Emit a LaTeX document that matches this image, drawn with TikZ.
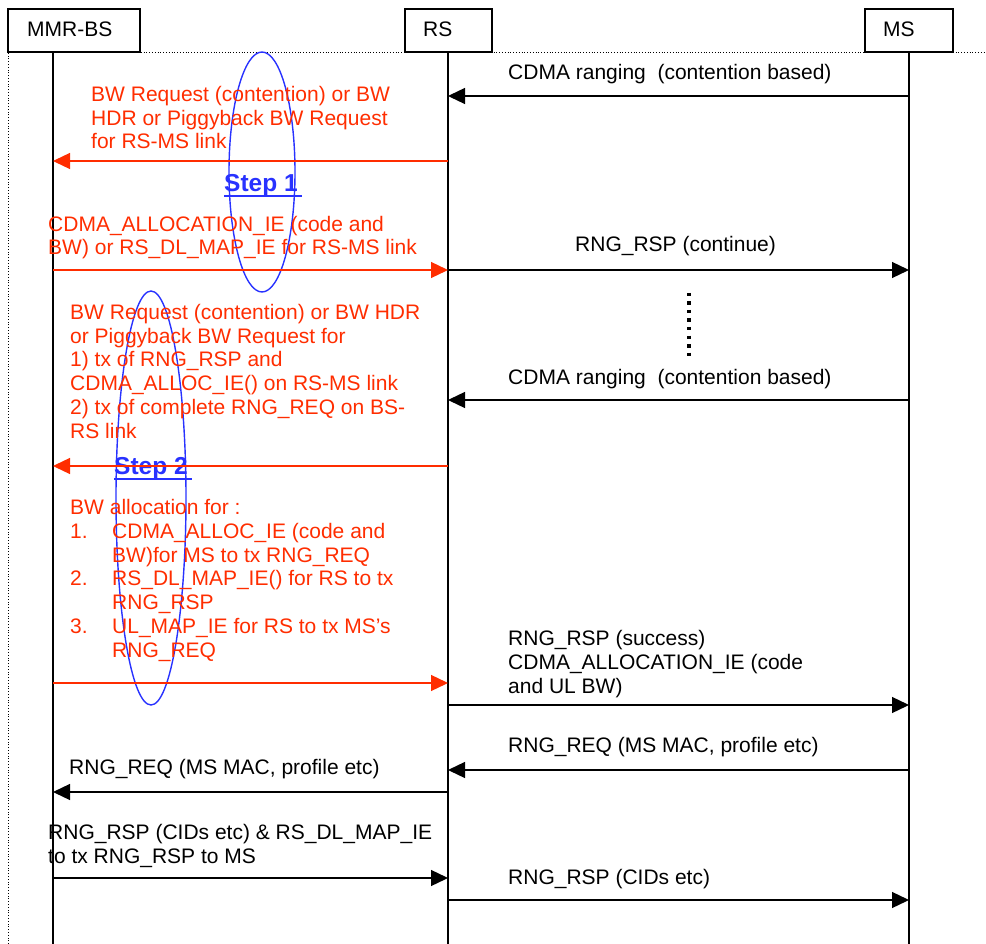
\documentclass[tikz,border=0pt]{standalone}
\usepackage{fontspec}
\setmainfont{Liberation Sans}
\usetikzlibrary{arrows.meta,shapes.geometric}
\definecolor{msgred}{RGB}{255,45,0}
\definecolor{stepblue}{RGB}{40,50,255}
\begin{document}
\begin{tikzpicture}[x=1pt,y=-1pt,
  txt/.style={font=\fontsize{21}{23.7}\selectfont, inner sep=0pt, anchor=base west, align=left},
  redtxt/.style={txt, text=msgred},
  steptxt/.style={inner sep=0pt, anchor=base west, text=stepblue, font=\fontsize{24.5}{27}\selectfont\bfseries},
  stepline/.style={draw=stepblue, line width=2pt},
  msg/.style={line width=1.3pt, -{Triangle[length=17pt,width=16pt]}},
  redmsg/.style={msg, draw=msgred, fill=msgred},
  life/.style={line width=1.3pt},
  head/.style={draw, line width=1.3pt, fill=white, minimum height=43pt, inner sep=0pt},
  stepell/.style={draw=stepblue, line width=1.4pt, ellipse, inner sep=0pt}]
\useasboundingbox (0,0) rectangle (986,944);
% frame
\coordinate (fbl) at (8,944);
\coordinate (ftl) at (8,52);
\coordinate (ftr) at (986,52);
\draw[dotted, line width=0.8pt] (fbl) -- (ftl) -- (ftr);
% lifelines
\coordinate (bst) at (53,52);  \coordinate (bsb) at (53,944);
\coordinate (rst) at (448,52); \coordinate (rsb) at (448,944);
\coordinate (mst) at (909,52); \coordinate (msb) at (909,944);
\draw[life] (bst) -- (bsb);
\draw[life] (rst) -- (rsb);
\draw[life] (mst) -- (msb);
% headers
\node[head, minimum width=132pt] (bs) at (74,30.5) {};
\node[head, minimum width=87pt] (rs) at (448.5,30.5) {};
\node[head, minimum width=88pt] (ms) at (909,30.5) {};
\node[txt] (bslab) at (27,37) {MMR-BS};
\node[txt] (rslab) at (423,37) {RS};
\node[txt] (mslab) at (883,37) {MS};
% step ellipses
\node[stepell, minimum width=66pt, minimum height=240pt] (e1) at (262,172) {};
\node[stepell, minimum width=70pt, minimum height=414pt] (e2) at (151,498) {};
\node[steptxt] (s1) at (224,192) {Step 1};
\node[steptxt] (s2) at (114,474) {Step 2};
\draw[stepline] ([yshift=-4.5pt]s1.base west) -- ([yshift=-4.5pt,xshift=4pt]s1.base east);
\draw[stepline] ([yshift=-4.5pt]s2.base west) -- ([yshift=-4.5pt,xshift=4pt]s2.base east);
% message 1
\coordinate (m1a) at (909,96); \coordinate (m1b) at (448,96);
\draw[msg] (m1a) -- (m1b);
\node[txt] (l1) at (508,80) {CDMA ranging~~(contention based)};
% message 2
\coordinate (m2a) at (448,161); \coordinate (m2b) at (53,161);
\draw[redmsg] (m2a) -- (m2b);
\node[redtxt] (l2) at (91,149) {BW Request (contention) or BW\\HDR or Piggyback BW Request\\for RS-MS link};
% message 3
\coordinate (m3a) at (53,270); \coordinate (m3b) at (448,270);
\draw[redmsg] (m3a) -- (m3b);
\node[redtxt] (l3) at (48,255) {CDMA\_ALLOCATION\_IE (code and\\BW) or RS\_DL\_MAP\_IE for RS-MS link};
% message 4
\coordinate (m4a) at (448,270); \coordinate (m4b) at (909,270);
\draw[msg] (m4a) -- (m4b);
\node[txt] (l4) at (575,252) {RNG\_RSP (continue)};
% dots
\coordinate (d1) at (689,293); \coordinate (d2) at (689,357);
\draw[line width=3.5pt, dash pattern=on 3.5pt off 5pt] (d1) -- (d2);
% message 5
\coordinate (m5a) at (909,400); \coordinate (m5b) at (448,400);
\draw[msg] (m5a) -- (m5b);
\node[txt] (l5) at (508,384) {CDMA ranging~~(contention based)};
% message 6
\coordinate (m6a) at (448,466); \coordinate (m6b) at (53,466);
\draw[redmsg] (m6a) -- (m6b);
\node[redtxt] (l6) at (70,438) {BW Request (contention) or BW HDR\\or Piggyback BW Request for\\1) tx of RNG\_RSP and\\CDMA\_ALLOC\_IE() on RS-MS link\\2) tx of complete RNG\_REQ on BS-\\RS link};
% message 7
\coordinate (m7a) at (53,683); \coordinate (m7b) at (448,683);
\draw[redmsg] (m7a) -- (m7b);
\node[redtxt] (l7) at (70,657) {BW allocation for :\\
\makebox[42pt][l]{1.}CDMA\_ALLOC\_IE (code and\\
\hspace*{42pt}BW)for MS to tx RNG\_REQ\\
\makebox[42pt][l]{2.}RS\_DL\_MAP\_IE() for RS to tx\\
\hspace*{42pt}RNG\_RSP\\
\makebox[42pt][l]{3.}UL\_MAP\_IE for RS to tx MS’s\\
\hspace*{42pt}RNG\_REQ};
% message 8
\coordinate (m8a) at (448,705); \coordinate (m8b) at (909,705);
\draw[msg] (m8a) -- (m8b);
\node[txt] (l8) at (508,693) {RNG\_RSP (success)\\CDMA\_ALLOCATION\_IE (code\\and UL BW)};
% message 9
\coordinate (m9a) at (909,770); \coordinate (m9b) at (448,770);
\draw[msg] (m9a) -- (m9b);
\node[txt] (l9) at (508,752) {RNG\_REQ (MS MAC, profile etc)};
% message 10
\coordinate (m10a) at (448,792); \coordinate (m10b) at (53,792);
\draw[msg] (m10a) -- (m10b);
\node[txt] (l10) at (69,774) {RNG\_REQ (MS MAC, profile etc)};
% message 11
\coordinate (m11a) at (53,878); \coordinate (m11b) at (448,878);
\draw[msg] (m11a) -- (m11b);
\node[txt] (l11) at (48,863) {RNG\_RSP (CIDs etc) \& RS\_DL\_MAP\_IE\\to tx RNG\_RSP to MS};
% message 12
\coordinate (m12a) at (448,900); \coordinate (m12b) at (909,900);
\draw[msg] (m12a) -- (m12b);
\node[txt] (l12) at (508,884) {RNG\_RSP (CIDs etc)};
\end{tikzpicture}
\end{document}
